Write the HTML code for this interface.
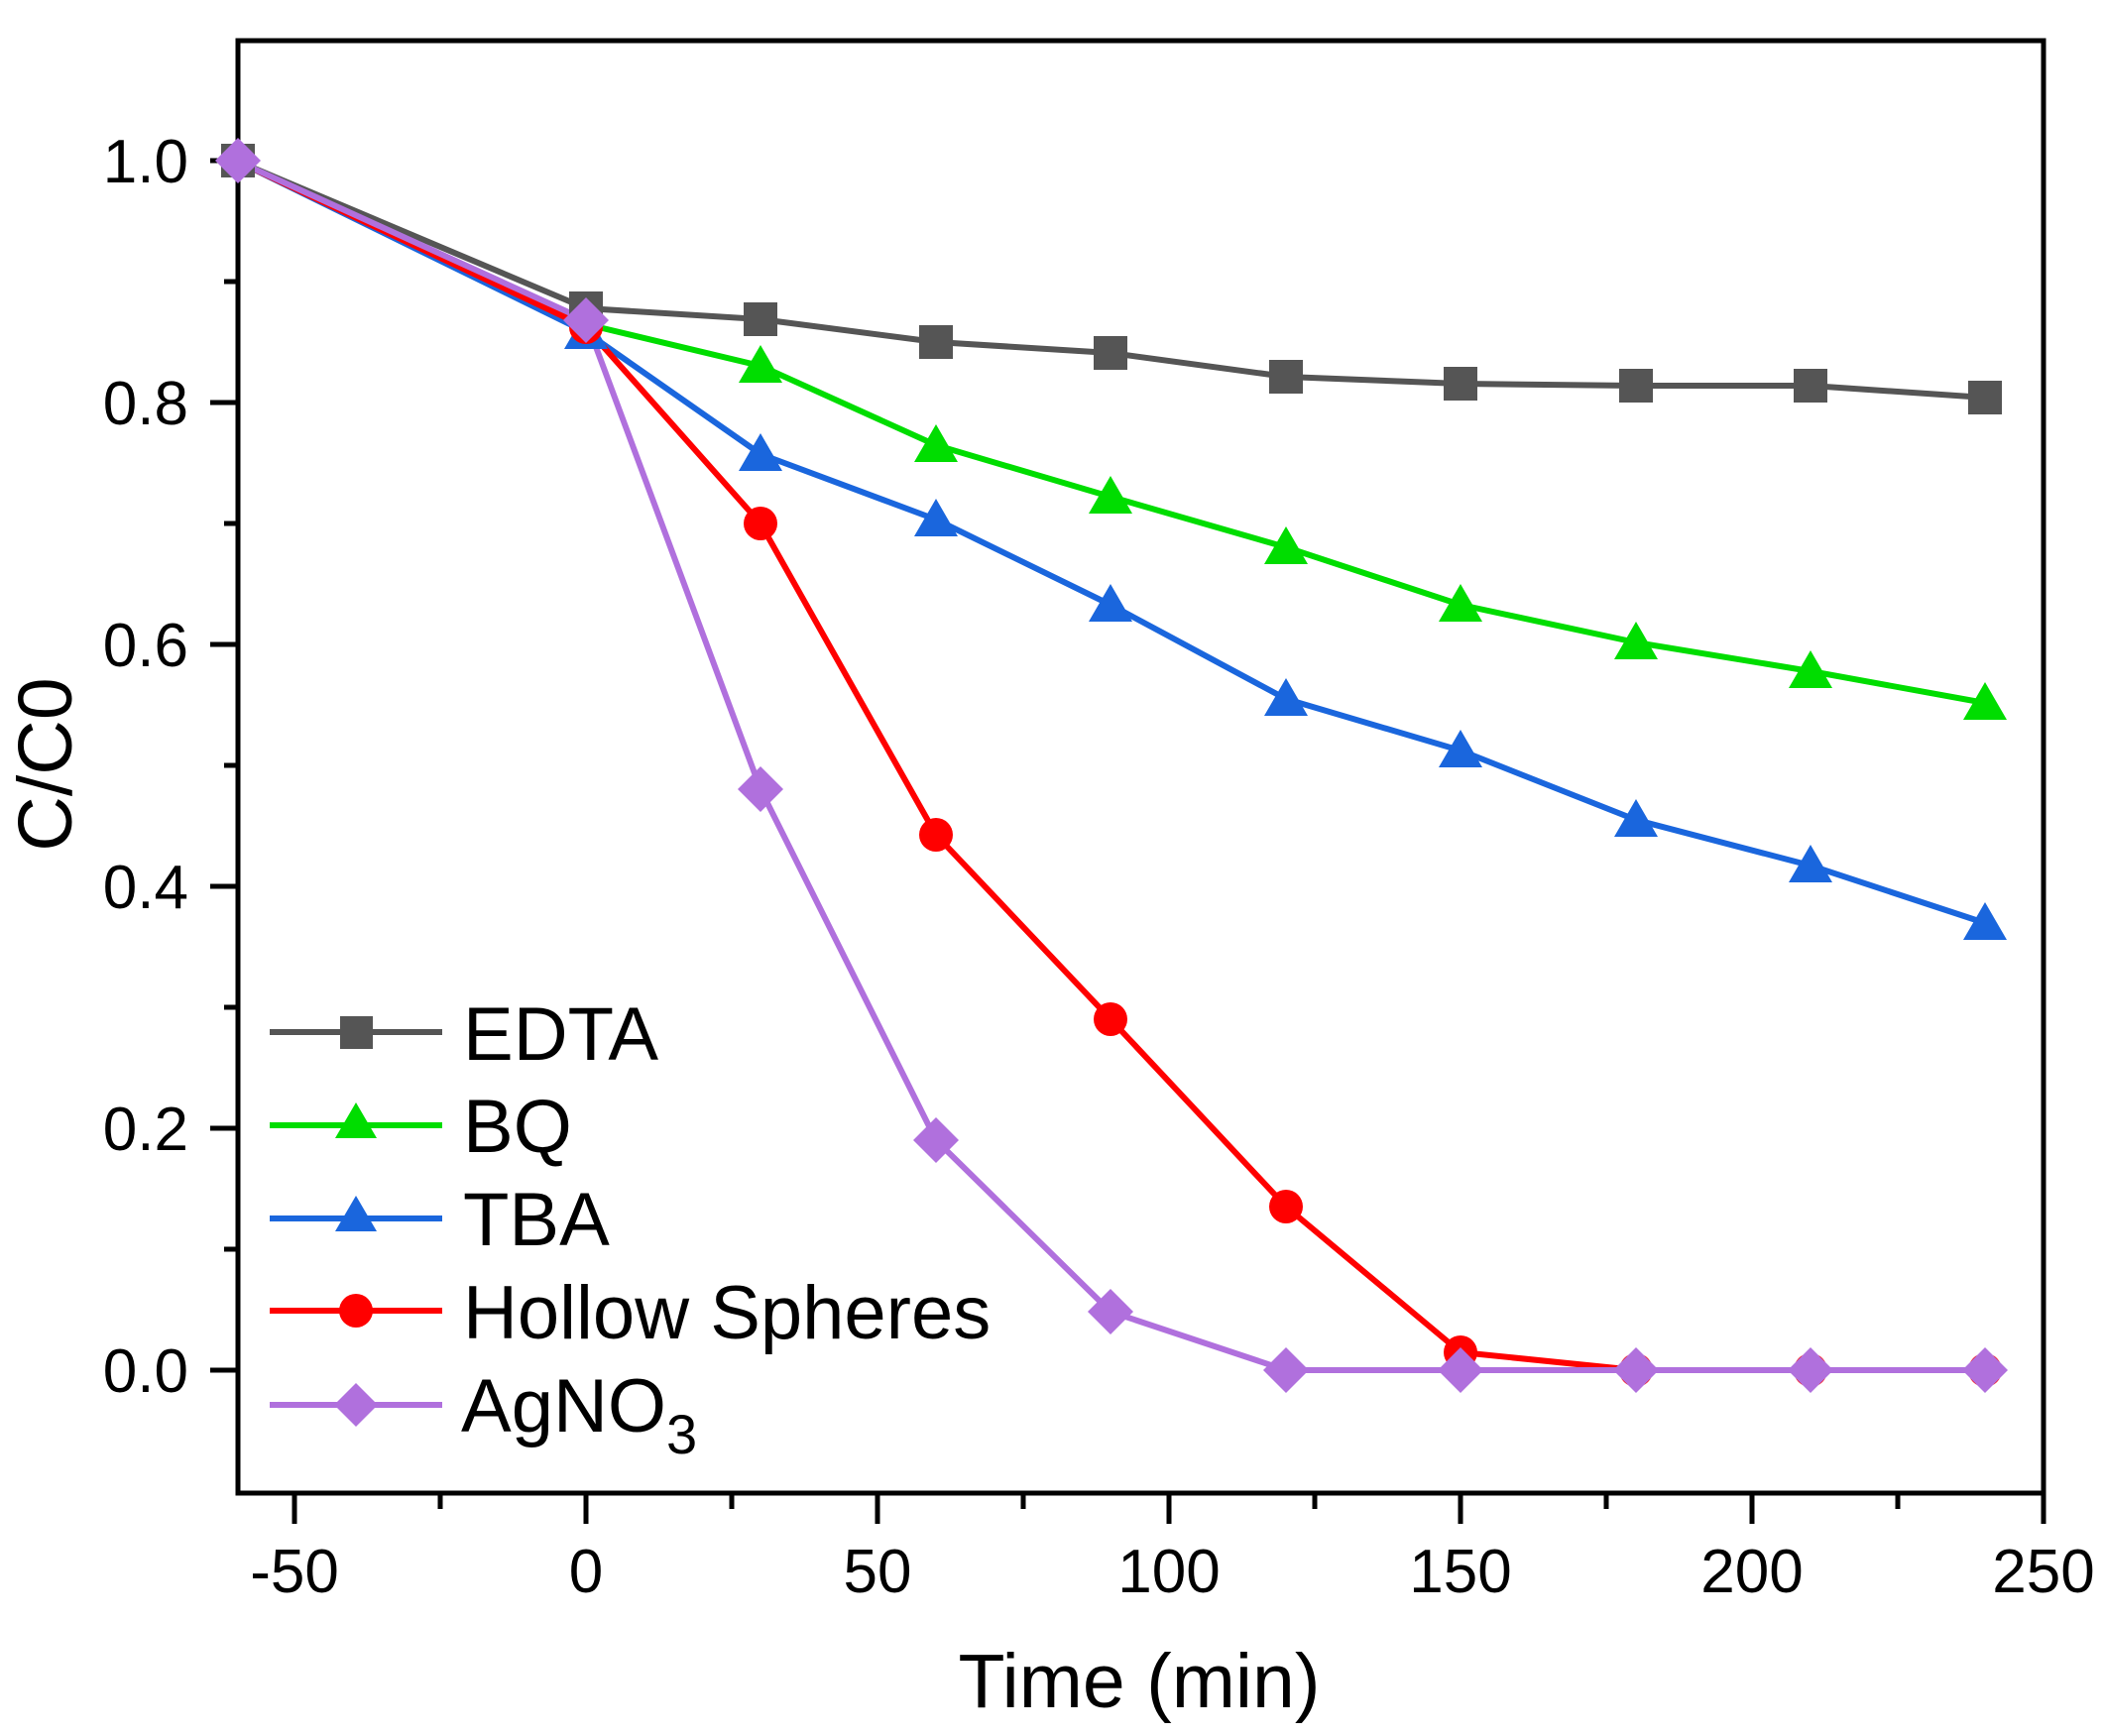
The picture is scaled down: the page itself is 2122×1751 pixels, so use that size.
<!DOCTYPE html>
<html><head><meta charset="utf-8"><style>
html,body{margin:0;padding:0;background:#fff}
svg{display:block}
text{font-family:"Liberation Sans",Arial,sans-serif;fill:#000}
</style></head><body>
<svg width="2122" height="1751" viewBox="0 0 2122 1751" xmlns="http://www.w3.org/2000/svg">
<defs>
<clipPath id="c"><rect x="240" y="41" width="1820" height="1465"/></clipPath>
</defs>
<rect x="240" y="41" width="1821" height="1465" fill="none" stroke="#000" stroke-width="5"/>
<g stroke="#000" stroke-width="5">
<line x1="212" y1="162" x2="240" y2="162"/>
<line x1="212" y1="406" x2="240" y2="406"/>
<line x1="212" y1="650" x2="240" y2="650"/>
<line x1="212" y1="894" x2="240" y2="894"/>
<line x1="212" y1="1138" x2="240" y2="1138"/>
<line x1="212" y1="1382" x2="240" y2="1382"/>
<line x1="226" y1="284" x2="240" y2="284"/>
<line x1="226" y1="528" x2="240" y2="528"/>
<line x1="226" y1="772" x2="240" y2="772"/>
<line x1="226" y1="1016" x2="240" y2="1016"/>
<line x1="226" y1="1260" x2="240" y2="1260"/>
<line x1="297" y1="1506" x2="297" y2="1537"/>
<line x1="591" y1="1506" x2="591" y2="1537"/>
<line x1="885" y1="1506" x2="885" y2="1537"/>
<line x1="1179" y1="1506" x2="1179" y2="1537"/>
<line x1="1473" y1="1506" x2="1473" y2="1537"/>
<line x1="1767" y1="1506" x2="1767" y2="1537"/>
<line x1="2061" y1="1506" x2="2061" y2="1537"/>
<line x1="444" y1="1506" x2="444" y2="1522"/>
<line x1="738" y1="1506" x2="738" y2="1522"/>
<line x1="1032" y1="1506" x2="1032" y2="1522"/>
<line x1="1326" y1="1506" x2="1326" y2="1522"/>
<line x1="1620" y1="1506" x2="1620" y2="1522"/>
<line x1="1914" y1="1506" x2="1914" y2="1522"/>
</g>
<g font-size="62" text-anchor="end">
<text x="190" y="184">1.0</text>
<text x="190" y="428">0.8</text>
<text x="190" y="672">0.6</text>
<text x="190" y="916">0.4</text>
<text x="190" y="1160">0.2</text>
<text x="190" y="1404">0.0</text>
</g>
<g font-size="62" text-anchor="middle">
<text x="297" y="1606">-50</text>
<text x="591" y="1606">0</text>
<text x="885" y="1606">50</text>
<text x="1179" y="1606">100</text>
<text x="1473" y="1606">150</text>
<text x="1767" y="1606">200</text>
<text x="2061" y="1606">250</text>
</g>
<text x="1149" y="1722" font-size="77" text-anchor="middle">Time (min)</text>
<text transform="translate(72,771) rotate(-90)" font-size="77" text-anchor="middle">C/C0</text>

<g clip-path="url(#c)" stroke-width="6" fill="none" stroke-linejoin="round">
<polyline stroke="#555" points="238,162 591,311 767,322 944,345 1120,356 1297,380 1473,387 1650,389 1826,389 2002,401"/>
<polyline stroke="#00dd00" points="238,162 591,327 767,369 944,449 1120,501 1297,552 1473,610 1650,648 1826,677 2002,709"/>
<polyline stroke="#1a66dd" points="238,162 591,335 767,458 944,524 1120,610 1297,705 1473,757 1650,827 1826,873 2002,931"/>
<polyline stroke="#ff0000" points="238,162 591,330 767,528 944,842 1120,1028 1297,1217 1473,1364 1650,1382 1826,1382 2002,1382"/>
<polyline stroke="#b070dd" points="238,162 591,323 767,796 944,1150 1120,1323 1297,1382 1473,1382 1650,1382 1826,1382 2002,1382"/>
</g>
<g fill="#555">
<rect x="223" y="145" width="34" height="34"/>
<rect x="574" y="294" width="34" height="34"/>
<rect x="750" y="305" width="34" height="34"/>
<rect x="927" y="328" width="34" height="34"/>
<rect x="1103" y="339" width="34" height="34"/>
<rect x="1280" y="363" width="34" height="34"/>
<rect x="1456" y="370" width="34" height="34"/>
<rect x="1633" y="372" width="34" height="34"/>
<rect x="1809" y="372" width="34" height="34"/>
<rect x="1985" y="384" width="34" height="34"/>
</g>
<g fill="#00dd00">
<path d="M767,348 l22,38 h-44z M944,428 l22,38 h-44z M1120,480 l22,38 h-44z M1297,531 l22,38 h-44z M1473,589 l22,38 h-44z M1650,627 l22,38 h-44z M1826,656 l22,38 h-44z M2002,688 l22,38 h-44z"/>
</g>
<g fill="#1a66dd">
<path d="M591,314 l22,38 h-44z M767,437 l22,38 h-44z M944,503 l22,38 h-44z M1120,589 l22,38 h-44z M1297,684 l22,38 h-44z M1473,736 l22,38 h-44z M1650,806 l22,38 h-44z M1826,852 l22,38 h-44z M2002,910 l22,38 h-44z"/>
</g>
<g fill="#ff0000">
<circle cx="591" cy="330" r="17"/>
<circle cx="767" cy="528" r="17"/>
<circle cx="944" cy="842" r="17"/>
<circle cx="1120" cy="1028" r="17"/>
<circle cx="1297" cy="1217" r="17"/>
<circle cx="1473" cy="1364" r="17"/>
<circle cx="1650" cy="1382" r="17"/>
<circle cx="1826" cy="1382" r="17"/>
<circle cx="2002" cy="1382" r="17"/>
</g>
<g fill="#b070dd">
<path d="M240,139 l23,23 -23,23 -23,-23z M591,300 l23,23 -23,23 -23,-23z M767,773 l23,23 -23,23 -23,-23z M944,1127 l23,23 -23,23 -23,-23z M1120,1300 l23,23 -23,23 -23,-23z M1297,1359 l23,23 -23,23 -23,-23z M1473,1359 l23,23 -23,23 -23,-23z M1650,1359 l23,23 -23,23 -23,-23z M1826,1359 l23,23 -23,23 -23,-23z M2002,1359 l23,23 -23,23 -23,-23z"/>
</g>

<g stroke-width="6">
<line x1="272" y1="1041" x2="446" y2="1041" stroke="#555"/>
<line x1="272" y1="1135" x2="446" y2="1135" stroke="#00dd00"/>
<line x1="272" y1="1229" x2="446" y2="1229" stroke="#1a66dd"/>
<line x1="272" y1="1322" x2="446" y2="1322" stroke="#ff0000"/>
<line x1="272" y1="1417" x2="446" y2="1417" stroke="#b070dd"/>
</g>
<rect x="343" y="1025" width="33" height="33" fill="#555"/>
<path d="M359,1112 l21,36 h-42z" fill="#00dd00"/>
<path d="M359,1206 l21,36 h-42z" fill="#1a66dd"/>
<circle cx="359" cy="1322" r="17" fill="#ff0000"/>
<path d="M359,1395 l22,22 -22,22 -22,-22z" fill="#b070dd"/>
<g font-size="76">
<text x="467" y="1069">EDTA</text>
<text x="467" y="1162">BQ</text>
<text x="467" y="1256">TBA</text>
<text x="467" y="1350">Hollow Spheres</text>
<text x="465" y="1444">AgNO<tspan font-size="56" dy="22">3</tspan></text>
</g>
</svg>
</body></html>
